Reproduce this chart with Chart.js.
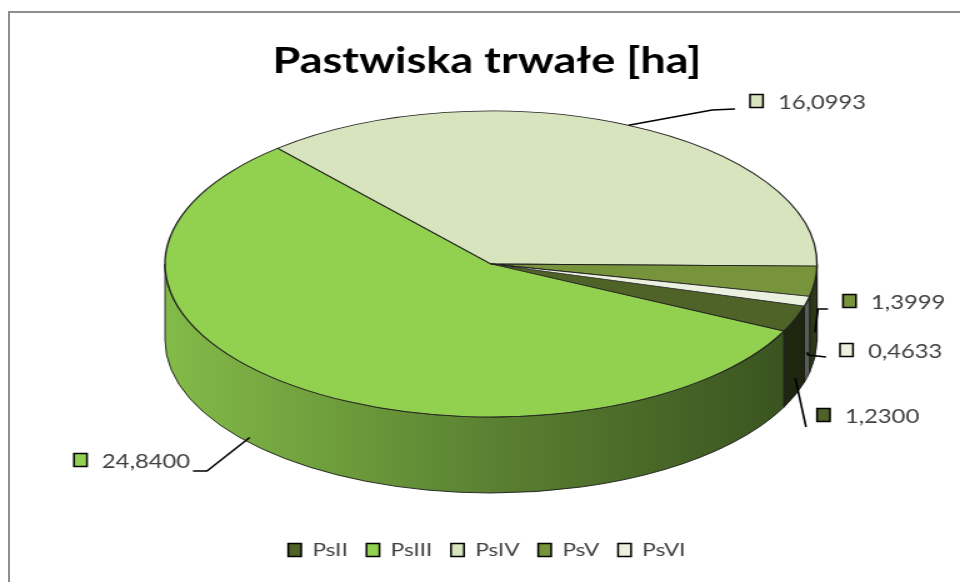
<!DOCTYPE html>
<html><head><meta charset="utf-8">
<script src="https://cdn.jsdelivr.net/npm/chart.js@4.4.1/dist/chart.umd.min.js"></script>
<style>
html,body{margin:0;padding:0;background:#fff;width:960px;height:582px;overflow:hidden;position:relative}
#frame{position:absolute;left:8px;top:11px;width:1100px;height:800px;border:2px solid #8e8e8e;box-sizing:border-box}
#wrap{position:absolute;left:0;top:0;width:768px;height:582px;transform:scaleX(1.25);transform-origin:0 0}
#c{display:block}
</style></head><body>
<div id="frame"></div>
<div id="wrap"><canvas id="c" width="768" height="582"></canvas></div>
<script>
// ---- data ----
const categories = ['PsII', 'PsIII', 'PsIV', 'PsV', 'PsVI'];
const values = [1.2300, 24.8400, 16.0993, 1.3999, 0.4633];
const colors = ['#4f6228', '#92d050', '#d7e4bd', '#77933c', '#ebf1de'];
const titleText = 'Pastwiska trwałe [ha]';
const valueLabels = values.map(v => v.toFixed(4).replace('.', ','));

// ---- style / layout (canvas units; canvas is stretched 1.25x horizontally) ----
const geo = { cx: 392.8, cy: 264, rx: 260.8, ry: 153, depth: 76 };
const labelLayout = [
  { frac: 0.5,  depth: 0.78, via: [[644.8, 427]],                box: [653.6, 415] },
  { frac: 0.55, depth: 0.93, via: [[165.6, 471], [154.4, 471]],  box: [59.2, 460] },
  { frac: 0.5,  depth: 0,    via: [[569.6, 110], [588, 109]],    box: [600, 101] },
  { frac: 0.5,  depth: 0.67, via: [[654.4, 309], [662.4, 309]],  box: [674.4, 301] },
  { frac: 0.5,  depth: 0.67, via: [[646.4, 355], [660.8, 357]],  box: [672, 350] }
];

function shade(hex, f) {
  const n = parseInt(hex.slice(1), 16);
  const r = (n >> 16) & 255, g = (n >> 8) & 255, b = n & 255;
  return `rgb(${Math.round(r * f)},${Math.round(g * f)},${Math.round(b * f)})`;
}

const pie3d = {
  id: 'pie3d',
  beforeDatasetsDraw(chart) {
    const ctx = chart.ctx;
    const arcs = chart.getDatasetMeta(0).data;
    const { cx, cy, rx, ry, depth } = geo;
    arcs.forEach((arc, i) => {
      const s = arc.startAngle, e = arc.endAngle;
      for (let k = -1; k <= 2; k++) {
        const a1 = Math.max(s, 2 * Math.PI * k), a2 = Math.min(e, 2 * Math.PI * k + Math.PI);
        if (a2 <= a1) continue;
        const g = ctx.createLinearGradient(cx - rx, 0, cx + rx, 0);
        g.addColorStop(0, shade(colors[i], 0.9));
        g.addColorStop(0.5, shade(colors[i], 0.62));
        g.addColorStop(1, shade(colors[i], 0.38));
        ctx.beginPath();
        ctx.ellipse(cx, cy, rx, ry, 0, a1, a2, false);
        ctx.ellipse(cx, cy + depth, rx, ry, 0, a2, a1, true);
        ctx.closePath();
        ctx.fillStyle = g;
        ctx.fill();
        ctx.lineWidth = 0.9;
        ctx.strokeStyle = '#1a1a1a';
        ctx.stroke();
      }
    });
    const a0 = arcs[0];
    ctx.save();
    ctx.translate(cx, cy);
    ctx.scale(rx / a0.outerRadius, ry / a0.outerRadius);
    ctx.translate(-a0.x, -a0.y);
  },
  afterDatasetsDraw(chart) {
    const ctx = chart.ctx;
    ctx.restore();
    const arcs = chart.getDatasetMeta(0).data;
    const { cx, cy, rx, ry, depth } = geo;
    arcs.forEach((arc, i) => {
      const L = labelLayout[i];
      const a = arc.startAngle + (arc.endAngle - arc.startAngle) * L.frac;
      const ax = cx + rx * Math.cos(a), ay = cy + ry * Math.sin(a) + depth * L.depth;
      ctx.beginPath();
      ctx.moveTo(ax, ay);
      L.via.forEach(p => ctx.lineTo(p[0], p[1]));
      ctx.lineWidth = 1.6;
      ctx.strokeStyle = '#000';
      ctx.stroke();
      const bx = L.box[0], by = L.box[1];
      ctx.fillStyle = colors[i];
      ctx.fillRect(bx, by - 6.5, 10.4, 13);
      ctx.lineWidth = 1.5;
      ctx.strokeStyle = '#000';
      ctx.strokeRect(bx, by - 6.5, 10.4, 13);
      ctx.font = '19px Lato';
      ctx.fillStyle = '#404040';
      ctx.textBaseline = 'middle';
      ctx.textAlign = 'left';
      ctx.fillText(valueLabels[i], bx + 22.4, by + 1.5);
    });
  }
};

new Chart(document.getElementById('c'), {
  type: 'pie',
  data: {
    labels: categories,
    datasets: [{
      data: values,
      backgroundColor: colors,
      borderColor: '#1e1e1e',
      borderWidth: 1.1,
      hoverOffset: 0,
      clip: false
    }]
  },
  options: {
    responsive: false,
    animation: false,
    devicePixelRatio: 1,
    events: [],
    rotation: 106,
    layout: { padding: { left: 11, right: 0, top: 0, bottom: 13 } },
    plugins: {
      tooltip: { enabled: false },
      title: {
        display: true,
        text: titleText,
        color: '#000',
        font: { family: 'Lato', size: 36, weight: 'bold' },
        padding: { top: 40, bottom: 10 }
      },
      legend: {
        display: true,
        position: 'bottom',
        labels: {
          boxWidth: 10.4,
          boxHeight: 13,
          padding: 15,
          color: '#404040',
          font: { family: 'Lato', size: 18 },
          generateLabels: () => categories.map((c, i) => ({
            text: c, fillStyle: colors[i], strokeStyle: '#000', lineWidth: 1.5,
            fontColor: '#404040', hidden: false, index: i
          }))
        }
      }
    }
  },
  plugins: [pie3d]
});
</script>
</body></html>
